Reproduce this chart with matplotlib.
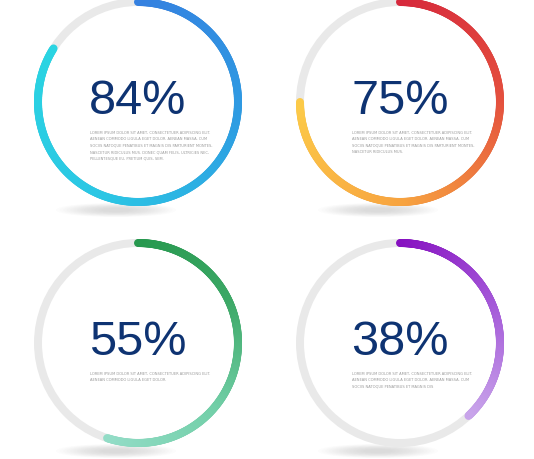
import numpy as np
import matplotlib
matplotlib.use("Agg")
from matplotlib import pyplot as plt
from matplotlib.collections import LineCollection
from matplotlib.colors import LinearSegmentedColormap
from matplotlib.patches import Circle, Ellipse

# Percent values, one per ring (top-left, top-right, bottom-left, bottom-right)
labels = ["84%", "75%", "55%", "38%"]
values = [84, 75, 55, 38]

# Gradient stops along each arc, from 12 o'clock to the arc's end
gradients = [
    ["#3580e0", "#2e9ce2", "#2bc6e4", "#2ad4e2"],
    ["#d6283c", "#e4503e", "#f7a340", "#fcca48"],
    ["#26984e", "#3ca866", "#72cfa8", "#92dcc6"],
    ["#8610c0", "#a458d8", "#c8a4ea"],
]

lorem = [
    "LOREM IPSUM DOLOR SIT AMET, CONSECTETUER ADIPISCING ELIT.",
    "AENEAN COMMODO LIGULA EGET DOLOR. AENEAN MASSA. CUM",
    "SOCIIS NATOQUE PENATIBUS ET MAGNIS DIS PARTURIENT MONTES,",
    "NASCETUR RIDICULUS MUS. DONEC QUAM FELIS, ULTRICIES NEC,",
    "PELLENTESQUE EU, PRETIUM QUIS, SEM.",
]
body_lines = [
    lorem,
    lorem[:3] + ["NASCETUR RIDICULUS MUS."],
    [lorem[0], "AENEAN COMMODO LIGULA EGET DOLOR."],
    lorem[:2] + ["SOCIIS NATOQUE PENATIBUS ET MAGNIS DIS"],
]

# layout in pixel units
centers = [(138, 103), (400, 103), (138, 344), (400, 344)]
radius = 100
ring_px = 8
track_color = "#e9e9e9"
navy = "#0e3372"

fig = plt.figure(figsize=(5.34, 4.60), dpi=100)
ax = fig.add_axes([0, 0, 1, 1])
ax.set_xlim(0, 534)
ax.set_ylim(460, 0)
ax.set_aspect("equal")
ax.axis("off")

lw = ring_px * 72 / 100

for (cx, cy), label, val, stops, lines in zip(centers, labels, values, gradients, body_lines):
    # soft shadow under the ring, a bit to the left
    for k in range(14):
        ax.add_patch(Ellipse((cx - 22, cy + radius + 8), 120 - k * 7, 14 - k * 0.8,
                             color="#a8a8a8", alpha=0.03, lw=0, zorder=0))
    ax.add_patch(Circle((cx, cy), radius - ring_px / 2, color="white", zorder=1))
    # grey track
    ax.add_patch(Circle((cx, cy), radius, fill=False, ec=track_color, lw=lw, zorder=2))

    # gradient arc, clockwise from the top
    n = 300
    sweep = val / 100 * 2 * np.pi
    t = np.linspace(0, sweep, n + 1)
    xs = cx + radius * np.sin(t)
    ys = cy - radius * np.cos(t)
    pts = np.column_stack([xs, ys]).reshape(-1, 1, 2)
    segs = np.concatenate([pts[:-1], pts[1:]], axis=1)
    cmap = LinearSegmentedColormap.from_list("g", stops)
    cols = cmap(np.linspace(0, 1, n))
    lc = LineCollection(segs, colors=cols, linewidths=lw, capstyle="round", zorder=3)
    ax.add_collection(lc)

    # big number
    ax.text(cx, cy - 1, label, ha="center", va="center", fontsize=35,
            family="Liberation Sans", color=navy, zorder=4)

    # small body text
    for i, line in enumerate(lines):
        ax.text(cx - 48, cy + 30 + i * 6.4, line, ha="left", va="center",
                fontsize=2.6, family="DejaVu Sans", color="#9a9a9a", zorder=4)

fig.savefig("out.png", dpi=100, facecolor="white")
